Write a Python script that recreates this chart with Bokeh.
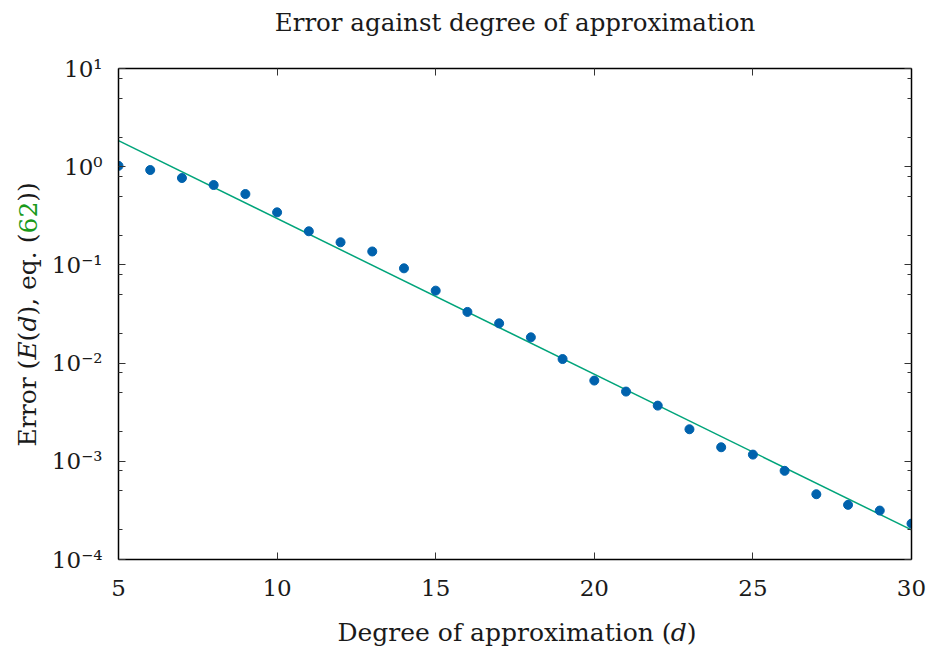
from bokeh.plotting import figure
from bokeh.layouts import column, row
from bokeh.models import (ColumnDataSource, FixedTicker, LinearAxis, LogAxis,
                          Label, Range1d)
from bokeh.embed import file_html
from bokeh.resources import INLINE

# Measured error for each degree of approximation
degree = [5, 6, 7, 8, 9, 10, 11, 12, 13, 14, 15, 16, 17, 18, 19, 20,
          21, 22, 23, 24, 25, 26, 27, 28, 29, 30]
error = [1.02, 0.925, 0.767, 0.651, 0.527, 0.343, 0.220, 0.170, 0.137,
         0.0923, 0.0547, 0.0332, 0.0254, 0.0183, 0.0110, 0.00664, 0.00513,
         0.00369, 0.00212, 0.00139, 0.00117, 0.00080, 0.000462, 0.000360,
         0.000315, 0.000232]

# Fitted exponential decay (straight line on the log axis)
fit_degree = [5, 30]
fit_error = [1.84, 2.0e-4]

x_ticks = [5, 10, 15, 20, 25, 30]
y_ticks = [1e-4, 1e-3, 1e-2, 1e-1, 1.0, 10.0]
y_tick_labels = ["10⁻⁴", "10⁻³", "10⁻²", "10⁻¹", "10⁰", "10¹"]
y_minor_mantissas = [2, 5, 8]

TITLE = "Error against degree of approximation"

FONT = "DejaVu Serif"
INK = "#1a1a1a"
LABEL_SIZE = "25px"

# ---- layout sizes (pixels)
TOTAL_W = 931
TITLE_H = 50         # strip holding the title
YLAB_W = 48          # strip holding the vertical axis title
LEFT_BORDER = 70     # room for the y tick labels
XLAB_H = 41          # strip holding the horizontal axis title
FRAME_W, FRAME_H = 793, 491
BORDER_TOP, BORDER_BOTTOM = 18, 50
MAIN_H = BORDER_TOP + FRAME_H + BORDER_BOTTOM

p = figure(frame_width=FRAME_W, frame_height=FRAME_H, y_axis_type="log",
           x_range=Range1d(5, 30), y_range=Range1d(1e-4, 10),
           output_backend="svg", toolbar_location=None,
           min_border_left=LEFT_BORDER, min_border_right=20,
           min_border_top=BORDER_TOP, min_border_bottom=BORDER_BOTTOM)
p.background_fill_color = "white"
p.border_fill_color = "white"
p.outline_line_color = None
p.grid.visible = False

y_minor = [m * t for t in y_ticks[:-1] for m in y_minor_mantissas]
xticker = FixedTicker(ticks=x_ticks, minor_ticks=[])
yticker = FixedTicker(ticks=y_ticks, minor_ticks=y_minor)


def style_axis(ax, show_labels):
    ax.axis_line_color = "black"
    ax.axis_line_width = 1.5
    ax.major_tick_in = 7
    ax.major_tick_out = 0
    ax.minor_tick_in = 4
    ax.minor_tick_out = 0
    ax.major_tick_line_color = "#333333"
    ax.minor_tick_line_color = "#333333"
    ax.major_label_text_font = FONT
    if show_labels:
        ax.major_label_text_font_size = "23px"
        ax.major_label_text_color = INK
    else:
        # mirrored frame axis: ticks only, labels not painted
        ax.major_label_text_font_size = "1px"
        ax.major_label_text_color = None
        ax.major_label_standoff = 0


xaxis = p.xaxis[0]
xaxis.ticker = xticker
style_axis(xaxis, True)
xaxis.major_label_standoff = 20

yaxis = p.yaxis[0]
yaxis.ticker = yticker
style_axis(yaxis, True)
yaxis.major_label_standoff = 16
yaxis.major_label_overrides = dict(zip(y_ticks, y_tick_labels))

top_axis = LinearAxis(ticker=xticker)
style_axis(top_axis, False)
p.add_layout(top_axis, "above")

right_axis = LogAxis(ticker=yticker)
style_axis(right_axis, False)
p.add_layout(right_axis, "right")

# Data and fit
p.line(fit_degree, fit_error, line_color="#00a47a", line_width=1.5)
src = ColumnDataSource(dict(d=degree, e=error))
p.scatter("d", "e", source=src, size=9, fill_color="#0062ad",
          line_color="#0062ad")


def strip(w, h, top=0, bottom=0):
    """Blank figure whose frame is measured in pixels, used to hold text."""
    f = figure(width=w, height=h, x_range=Range1d(0, w),
               y_range=Range1d(0, h - top - bottom),
               min_border=0, min_border_top=top, min_border_bottom=bottom,
               toolbar_location=None, output_backend="svg",
               x_axis_location=None, y_axis_location=None)
    f.outline_line_color = None
    f.grid.visible = False
    f.background_fill_color = "white"
    f.border_fill_color = "white"
    return f


def piece(fig, text, x, y, angle=0.0, italic=False, color=INK,
          size=LABEL_SIZE, align="left"):
    fig.add_layout(Label(x=x, y=y, text=text, angle=angle,
                         text_font=FONT, text_font_size=size,
                         text_font_style="italic" if italic else "normal",
                         text_color=color, text_align=align,
                         text_baseline="middle"))


# Title, centred over the plotting frame
tfig = strip(TOTAL_W, TITLE_H)
piece(tfig, TITLE, YLAB_W + LEFT_BORDER + FRAME_W / 2, 28, size="24.5px",
      align="center")

# Vertical axis title, assembled from styled pieces
yfig = strip(YLAB_W, MAIN_H, top=BORDER_TOP, bottom=BORDER_BOTTOM)
ylabel_parts = [("Error (", False, INK, 86.9), ("E", True, INK, 18.2),
                ("(", False, INK, 9.8), ("d", True, INK, 16.0),
                ("), eq. (", False, INK, 82.1), ("62", False, "#1a9a1a", 31.8),
                ("))", False, INK, 19.5)]
pos = 113.0
for text, ital, col, w in ylabel_parts:
    piece(yfig, text, 27, pos, angle=1.5707963, italic=ital, color=col)
    pos += w

# Horizontal axis title
xfig = strip(TOTAL_W, XLAB_H)
xlabel_parts = [("Degree of approximation (", False, INK, 333.3),
                ("d", True, INK, 16.0), (")", False, INK, 9.8)]
pos = 337.0
for text, ital, col, w in xlabel_parts:
    piece(xfig, text, pos, 18, italic=ital, color=col)
    pos += w

page = column(tfig, row(yfig, p, spacing=0), xfig, spacing=0)
open("out.html", "w").write(file_html(page, INLINE))
